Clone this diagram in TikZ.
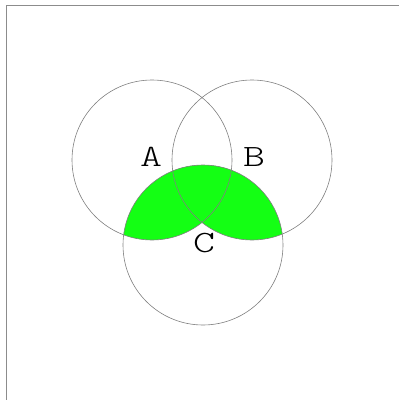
\documentclass[tikz,border=0pt]{standalone}
\usepackage{graphicx}
\newcommand{\widelab}[1]{\scalebox{1.35}[1]{#1}}
\begin{document}
\begin{tikzpicture}[x=1pt,y=-1pt,
  setcircle/.style={circle,draw=black!50,line width=0.6pt,minimum size=160pt,inner sep=0pt},
  setlabel/.style={font=\ttfamily\fontseries{l}\fontsize{31}{31}\selectfont,inner sep=0pt},
  frameline/.style={draw=black!45,line width=1pt}]
\useasboundingbox (0,0) rectangle (399,400);
\coordinate (tl) at (6,5);
\coordinate (tr) at (399,5);
\coordinate (bl) at (6,400);
\draw[frameline] (tr) -- (tl) -- (bl);
\begin{scope}
  \clip (203,245) circle (80);
  \fill[fill={rgb,255:red,20;green,255;blue,20}] (152,160) circle (80);
  \fill[fill={rgb,255:red,20;green,255;blue,20}] (252,160) circle (80);
\end{scope}
\node[setcircle] (A) at (152,160) {};
\node[setcircle] (B) at (252,160) {};
\node[setcircle] (C) at (203,245) {};
\node[setlabel] (la) at (151,157) {\widelab{A}};
\node[setlabel] (lb) at (254,157) {\widelab{B}};
\node[setlabel] (lc) at (204,243) {\widelab{C}};
\end{tikzpicture}
\end{document}
